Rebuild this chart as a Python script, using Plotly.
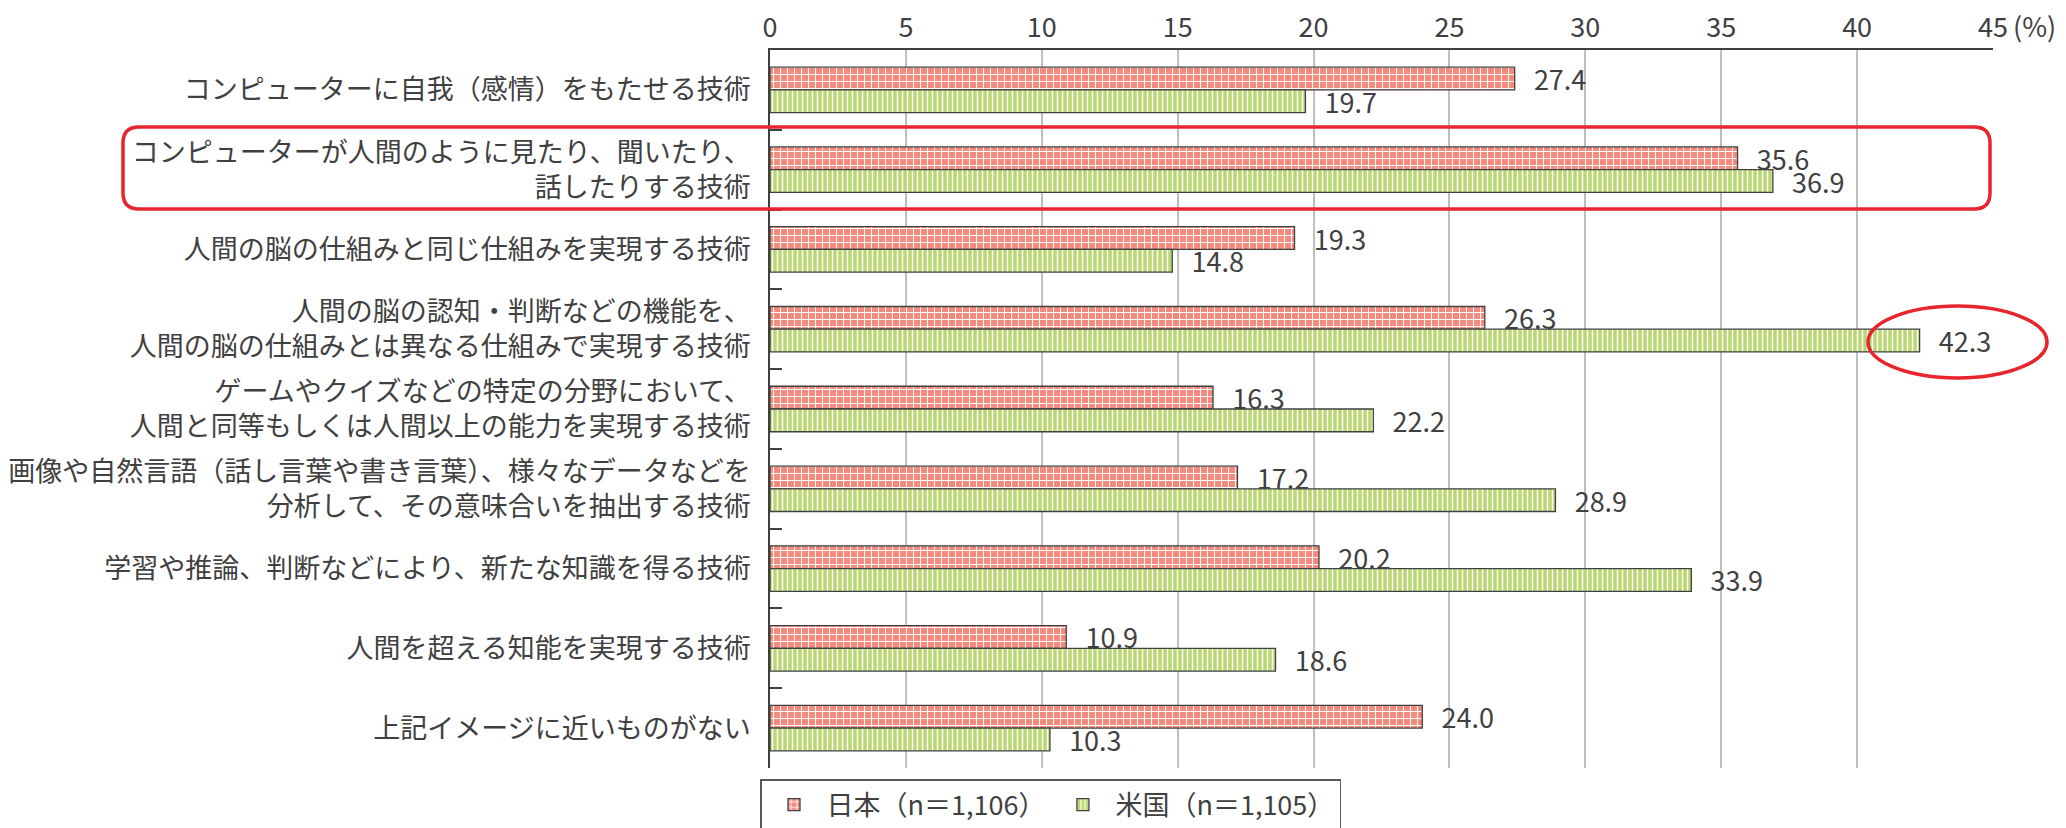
import plotly.graph_objects as go

categories = [
    "コンピューターに自我（感情）をもたせる技術",
    "コンピューターが人間のように見たり、聞いたり、<br>話したりする技術",
    "人間の脳の仕組みと同じ仕組みを実現する技術",
    "人間の脳の認知・判断などの機能を、<br>人間の脳の仕組みとは異なる仕組みで実現する技術",
    "ゲームやクイズなどの特定の分野において、<br>人間と同等もしくは人間以上の能力を実現する技術",
    "画像や自然言語（話し言葉や書き言葉）、様々なデータなどを<br>分析して、その意味合いを抽出する技術",
    "学習や推論、判断などにより、新たな知識を得る技術",
    "人間を超える知能を実現する技術",
    "上記イメージに近いものがない",
]
japan = [27.4, 35.6, 19.3, 26.3, 16.3, 17.2, 20.2, 10.9, 24.0]
usa = [19.7, 36.9, 14.8, 42.3, 22.2, 28.9, 33.9, 18.6, 10.3]
series_names = ["日本（n＝1,106）", "米国（n＝1,105）"]
x_ticks = [0, 5, 10, 15, 20, 25, 30, 35, 40, 45]

FONT = "Noto Sans CJK JP, Noto Sans, sans-serif"
TXT = "#404040"
W, H = 2066, 828
L, R, T, B = 770, 1993, 50, 768
FS = 27

def px_x(p):
    return (p - L) / (R - L)

def px_y(p):
    return (B - p) / (B - T)

fig = go.Figure()
fig.add_trace(go.Bar(
    y=categories, x=japan, name=series_names[0], orientation="h",
    marker=dict(color="#F4897C", line=dict(color="#404040", width=1.3),
                pattern=dict(shape="+", fgcolor="white", bgcolor="#F4897C",
                             size=7, solidity=0.28, fillmode="replace")),
    texttemplate="\u2009\u2009\u2009%{x:.1f}", textposition="outside",
    constraintext="none",
    textfont=dict(size=FS, color=TXT, family=FONT), cliponaxis=False,
))
fig.add_trace(go.Bar(
    y=categories, x=usa, name=series_names[1], orientation="h",
    marker=dict(color="#B9D86F", line=dict(color="#404040", width=1.3),
                pattern=dict(shape="|", fgcolor="white", bgcolor="#B9D86F",
                             size=5, solidity=0.3, fillmode="replace")),
    texttemplate="\u2009\u2009\u2009%{x:.1f}", textposition="outside",
    constraintext="none",
    textfont=dict(size=FS, color=TXT, family=FONT), cliponaxis=False,
))

def rounded_rect(x0, y0, x1, y1, r):
    rx = r / (R - L)
    ry = r / (B - T)
    X0, X1 = px_x(x0), px_x(x1)
    Y0, Y1 = px_y(y1), px_y(y0)
    return (f"M {X0+rx},{Y1} L {X1-rx},{Y1} Q {X1},{Y1} {X1},{Y1-ry} "
            f"L {X1},{Y0+ry} Q {X1},{Y0} {X1-rx},{Y0} "
            f"L {X0+rx},{Y0} Q {X0},{Y0} {X0},{Y0+ry} "
            f"L {X0},{Y1-ry} Q {X0},{Y1} {X0+rx},{Y1} Z")

shapes = [
    dict(type="path", xref="paper", yref="paper",
         path=rounded_rect(123, 127, 1990, 209, 16),
         line=dict(color="#E8242C", width=3.5), layer="above"),
    dict(type="circle", xref="paper", yref="paper",
         x0=px_x(1868), x1=px_x(2047), y0=px_y(378), y1=px_y(306),
         line=dict(color="#E8242C", width=3.5), layer="above"),
]

fig.update_layout(
    width=W, height=H,
    margin=dict(l=L, r=W - R, t=T, b=H - B, autoexpand=False),
    paper_bgcolor="white", plot_bgcolor="white",
    barmode="group", bargap=0.43, bargroupgap=0.0,
    font=dict(family=FONT, size=FS, color=TXT),
    xaxis=dict(side="top", range=[0, 45], tickvals=x_ticks,
               ticktext=[str(v) for v in x_ticks],
               showgrid=True, gridcolor="#BFBFBF", gridwidth=1.5,
               showline=True, linecolor="#404040", linewidth=1.8,
               ticks="", ticklabelstandoff=0, zeroline=False,
               automargin=False,
               tickfont=dict(size=FS, color=TXT, family=FONT)),
    yaxis=dict(range=[8.5, -0.5], type="category",
               showline=True, linecolor="#404040", linewidth=1.8,
               ticks="inside", tickson="boundaries", ticklen=12,
               tickcolor="#404040", tickwidth=1.5,
               ticklabelstandoff=12, showgrid=False, automargin=False,
               tickfont=dict(size=FS, color=TXT, family=FONT)),
    legend=dict(orientation="h", x=px_x(760), y=px_y(779),
                xanchor="left", yanchor="top",
                bordercolor="#595959", borderwidth=1.5,
                font=dict(size=FS, color=TXT, family=FONT),
                itemwidth=55, traceorder="normal"),
    shapes=shapes,
    annotations=[dict(text="(%)", xref="paper", yref="paper",
                      x=px_x(2011), y=px_y(25), xanchor="left",
                      yanchor="middle", showarrow=False,
                      font=dict(size=FS, color=TXT, family=FONT))],
)

fig.write_html(
    "out.html",
    config={"displayModeBar": False},
    post_script="document.body.style.margin='0';document.body.style.overflow='hidden';",
)
